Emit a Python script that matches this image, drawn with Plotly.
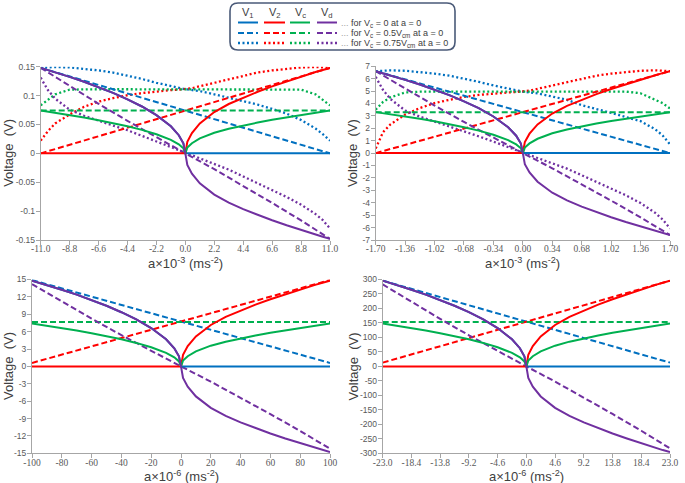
import plotly.graph_objects as go

W, H = 685, 483

# ---------------- colours ----------------
C_V1, C_V2, C_VC, C_VD = "#0070C0", "#FF0000", "#00B050", "#7030A0"

# ---------------- panel 1 (a x10^-3, +/-11) ----------------
p1_x = [-11, -10.45, -9.9, -8.8, -7.7, -6.6, -5.5, -4.4, -3.3, -2.2, -1.1, -0.5, -0.15, 0,
        0.15, 0.5, 1.1, 2.2, 3.3, 4.4, 5.5, 6.6, 7.7, 8.8, 9.9, 10.45, 11]
p1_v1 = [0.148, 0.1443, 0.1404, 0.1323, 0.1239, 0.1147, 0.1046, 0.0935, 0.0811, 0.0662, 0.0468, 0.0314, 0.0173, 0,
         0, 0, 0, 0, 0, 0, 0, 0, 0, 0, 0, 0, 0]
p1_v2 = [0, 0, 0, 0, 0, 0, 0, 0, 0, 0, 0, 0, 0, 0,
         0.02, 0.0351, 0.0518, 0.0715, 0.0854, 0.0966, 0.1066, 0.1159, 0.1245, 0.1328, 0.1407, 0.1444, 0.148]
p1_vc = [0.074, 0.0722, 0.0702, 0.0662, 0.062, 0.0574, 0.0523, 0.0468, 0.0406, 0.0331, 0.0234, 0.0157, 0.0087, 0,
         0.01, 0.0175, 0.0259, 0.0357, 0.0427, 0.0483, 0.0533, 0.058, 0.0622, 0.0664, 0.0704, 0.0722, 0.074]
p1_vd = [0.148, 0.1443, 0.1404, 0.1323, 0.1239, 0.1147, 0.1046, 0.0935, 0.0811, 0.0662, 0.0468, 0.0314, 0.0173, 0,
         -0.02, -0.0351, -0.0518, -0.0715, -0.0854, -0.0966, -0.1066, -0.1159, -0.1245, -0.1328, -0.1407, -0.1444, -0.148]
p1_v1_dot = [0.148, 0.1492, 0.1495, 0.1487, 0.1465, 0.1436, 0.1399, 0.1347, 0.1288, 0.1221, 0.1162, 0.1128, 0.1114, 0.111,
             0.1107, 0.1098, 0.1077, 0.1021, 0.0962, 0.0903, 0.0844, 0.077, 0.0688, 0.0577, 0.0429, 0.0333, 0.022]
p1_v2_dot = [0.022, 0.0385, 0.0518, 0.0673, 0.0807, 0.0895, 0.0955, 0.1006, 0.1043, 0.1073, 0.1095, 0.1103, 0.1109, 0.111,
             0.1114, 0.1128, 0.1162, 0.1221, 0.1288, 0.1347, 0.1399, 0.1436, 0.1465, 0.1487, 0.1495, 0.1492, 0.148]
p1_vc_dot = [0.083, 0.0932, 0.1021, 0.1103, 0.111, 0.111, 0.111, 0.111, 0.111, 0.111, 0.111, 0.111, 0.111, 0.111,
             0.111, 0.111, 0.111, 0.111, 0.111, 0.111, 0.111, 0.111, 0.111, 0.1103, 0.1021, 0.0932, 0.083]
p1_vd_dot = [0.131, 0.1095, 0.0947, 0.0755, 0.0651, 0.0562, 0.0481, 0.04, 0.0303, 0.0207, 0.0107, 0.0047, 0.0015, 0,
             -0.0012, -0.004, -0.0089, -0.0185, -0.0281, -0.04, -0.0518, -0.0629, -0.0755, -0.0888, -0.1051, -0.1154, -0.1302]
p1_xd = [-11, -8.8, -6.6, -4.4, -2.2, 0, 2.2, 4.4, 6.6, 8.8, 11]
p1_v1_dash = [0.148, 0.1332, 0.1184, 0.1036, 0.0888, 0.074, 0.0592, 0.0444, 0.0296, 0.0148, 0]
p1_v2_dash = [0, 0.0148, 0.0296, 0.0444, 0.0592, 0.074, 0.0888, 0.1036, 0.1184, 0.1332, 0.148]
p1_vc_dash = [0.074, 0.074, 0.074, 0.074, 0.074, 0.074, 0.074, 0.074, 0.074, 0.074, 0.074]
p1_vd_dash = [0.148, 0.1162, 0.0858, 0.0562, 0.0274, 0, -0.0274, -0.0562, -0.0858, -0.1162, -0.148]
p1_xticks = [-11, -8.8, -6.6, -4.4, -2.2, 0, 2.2, 4.4, 6.6, 8.8, 11]
p1_xlabels = ["-11.0", "-8.8", "-6.6", "-4.4", "-2.2", "0.0", "2.2", "4.4", "6.6", "8.8", "11.0"]
p1_yticks = [-0.15, -0.1, -0.05, 0, 0.05, 0.1, 0.15]
p1_ylabels = ["-0.15", "-0.1", "-0.05", "0", "0.05", "0.1", "0.15"]

# ---------------- panel 2 (a x10^-3, +/-1.70) ----------------
p2_x = [-1.7, -1.615, -1.53, -1.36, -1.19, -1.02, -0.85, -0.68, -0.51, -0.34, -0.17, -0.077, -0.023, 0,
        0.023, 0.077, 0.17, 0.34, 0.51, 0.68, 0.85, 1.02, 1.19, 1.36, 1.53, 1.615, 1.7]
p2_v1 = [6.6, 6.435, 6.263, 5.9, 5.524, 5.115, 4.666, 4.171, 3.617, 2.95, 2.086, 1.399, 0.772, 0,
         0, 0, 0, 0, 0, 0, 0, 0, 0, 0, 0, 0, 0]
p2_v2 = [0, 0, 0, 0, 0, 0, 0, 0, 0, 0, 0, 0, 0, 0,
         0.891, 1.564, 2.31, 3.188, 3.808, 4.31, 4.752, 5.168, 5.551, 5.92, 6.277, 6.442, 6.6]
p2_vc = [3.3, 3.218, 3.131, 2.95, 2.762, 2.558, 2.333, 2.086, 1.808, 1.475, 1.043, 0.7, 0.386, 0,
         0.445, 0.782, 1.155, 1.594, 1.904, 2.155, 2.376, 2.584, 2.775, 2.96, 3.138, 3.221, 3.3]
p2_vd = [6.6, 6.435, 6.263, 5.9, 5.524, 5.115, 4.666, 4.171, 3.617, 2.95, 2.086, 1.399, 0.772, 0,
         -0.891, -1.564, -2.31, -3.188, -3.808, -4.31, -4.752, -5.168, -5.551, -5.92, -6.277, -6.442, -6.6]
p2_v1_dot = [6.6, 6.653, 6.666, 6.633, 6.534, 6.402, 6.237, 6.006, 5.742, 5.445, 5.181, 5.029, 4.97, 4.95,
             4.937, 4.897, 4.805, 4.554, 4.29, 3.861, 3.564, 3.234, 2.904, 2.574, 1.914, 1.419, 0.70]
p2_v2_dot = [0.376, 1.683, 2.31, 3.102, 3.63, 4.026, 4.29, 4.521, 4.686, 4.805, 4.884, 4.917, 4.943, 4.95,
             4.97, 5.029, 5.181, 5.445, 5.742, 6.006, 6.237, 6.402, 6.534, 6.633, 6.666, 6.653, 6.6]
p2_vc_dot = [3.498, 4.125, 4.488, 4.884, 4.95, 4.95, 4.95, 4.95, 4.95, 4.95, 4.95, 4.95, 4.95, 4.95,
             4.95, 4.95, 4.95, 4.95, 4.95, 4.95, 4.95, 4.95, 4.95, 4.818, 4.323, 4.026, 3.59]
p2_vd_dot = [6.138, 5.082, 4.356, 3.432, 2.937, 2.541, 2.145, 1.782, 1.353, 0.924, 0.475, 0.211, 0.066, 0,
             -0.053, -0.178, -0.396, -0.825, -1.254, -1.782, -2.31, -2.838, -3.399, -4.026, -4.818, -5.346, -6.072]
p2_xd = [-1.7, -1.36, -1.02, -0.68, -0.34, 0, 0.34, 0.68, 1.02, 1.36, 1.7]
p2_v1_dash = [6.6, 5.94, 5.28, 4.62, 3.96, 3.3, 2.64, 1.98, 1.32, 0.66, 0]
p2_v2_dash = [0, 0.66, 1.32, 1.98, 2.64, 3.3, 3.96, 4.62, 5.28, 5.94, 6.6]
p2_vc_dash = [3.3, 3.3, 3.3, 3.3, 3.3, 3.3, 3.3, 3.3, 3.3, 3.3, 3.3]
p2_vd_dash = [6.6, 5.181, 3.828, 2.508, 1.221, 0, -1.221, -2.508, -3.828, -5.181, -6.6]
p2_xticks = [-1.7, -1.36, -1.02, -0.68, -0.34, 0, 0.34, 0.68, 1.02, 1.36, 1.7]
p2_xlabels = ["-1.70", "-1.36", "-1.02", "-0.68", "-0.34", "0.00", "0.34", "0.68", "1.02", "1.36", "1.70"]
p2_yticks = [-7, -6, -5, -4, -3, -2, -1, 0, 1, 2, 3, 4, 5, 6, 7]
p2_ylabels = ["-7", "-6", "-5", "-4", "-3", "-2", "-1", "0", "1", "2", "3", "4", "5", "6", "7"]

# ---------------- panel 3 (a x10^-6, +/-100) ----------------
p3_x = [-100, -95, -90, -80, -70, -60, -50, -40, -30, -20, -10, -4.5, -1.36, 0,
        1.36, 4.5, 10, 20, 30, 40, 50, 60, 70, 80, 90, 95, 100]
p3_v1 = [14.8, 14.43, 14.045, 13.231, 12.388, 11.47, 10.464, 9.354, 8.11, 6.616, 4.677, 3.138, 1.732, 0,
         0, 0, 0, 0, 0, 0, 0, 0, 0, 0, 0, 0, 0]
p3_v2 = [0, 0, 0, 0, 0, 0, 0, 0, 0, 0, 0, 0, 0, 0,
         1.998, 3.508, 5.18, 7.148, 8.54, 9.664, 10.656, 11.588, 12.447, 13.276, 14.075, 14.445, 14.8]
p3_vc = [7.4, 7.215, 7.023, 6.616, 6.194, 5.735, 5.232, 4.677, 4.055, 3.308, 2.339, 1.569, 0.866, 0,
         0.999, 1.754, 2.59, 3.574, 4.27, 4.832, 5.328, 5.794, 6.224, 6.638, 7.038, 7.223, 7.4]
p3_vd = [14.8, 14.43, 14.045, 13.231, 12.388, 11.47, 10.464, 9.354, 8.11, 6.616, 4.677, 3.138, 1.732, 0,
         -1.998, -3.508, -5.18, -7.148, -8.54, -9.664, -10.656, -11.588, -12.447, -13.276, -14.075, -14.445, -14.8]
p3_xd = [-100, -80, -60, -40, -20, 0, 20, 40, 60, 80, 100]
p3_v1_dash = [14.9, 13.47, 12.04, 10.61, 9.18, 7.75, 6.32, 4.89, 3.46, 2.03, 0.6]
p3_v2_dash = [0.6, 2.03, 3.46, 4.89, 6.32, 7.75, 9.18, 10.61, 12.04, 13.47, 14.9]
p3_vc_dash = [7.65, 7.65, 7.65, 7.65, 7.65, 7.65, 7.65, 7.65, 7.65, 7.65, 7.65]
p3_vd_dash = [14.2, 11.15, 8.24, 5.4, 2.63, 0, -2.63, -5.4, -8.24, -11.15, -14.2]
p3_xticks = [-100, -80, -60, -40, -20, 0, 20, 40, 60, 80, 100]
p3_xlabels = ["-100", "-80", "-60", "-40", "-20", "0", "20", "40", "60", "80", "100"]
p3_yticks = [-15, -12, -9, -6, -3, 0, 3, 6, 9, 12, 15]
p3_ylabels = ["-15", "-12", "-9", "-6", "-3", "0", "3", "6", "9", "12", "15"]

# ---------------- panel 4 (a x10^-6, +/-23) ----------------
p4_x = [-23, -21.85, -20.7, -18.4, -16.1, -13.8, -11.5, -9.2, -6.9, -4.6, -2.3, -1.035, -0.313, 0,
        0.313, 1.035, 2.3, 4.6, 6.9, 9.2, 11.5, 13.8, 16.1, 18.4, 20.7, 21.85, 23]
p4_v1 = [296, 288.6, 280.9, 264.6, 247.8, 229.4, 209.3, 187.1, 162.2, 132.3, 93.5, 62.8, 34.6, 0,
         0, 0, 0, 0, 0, 0, 0, 0, 0, 0, 0, 0, 0]
p4_v2 = [0, 0, 0, 0, 0, 0, 0, 0, 0, 0, 0, 0, 0, 0,
         40.0, 70.2, 103.6, 143.0, 170.8, 193.3, 213.1, 231.8, 248.9, 265.5, 281.5, 288.9, 296]
p4_vc = [148, 144.3, 140.5, 132.3, 123.9, 114.7, 104.7, 93.6, 81.1, 66.2, 46.8, 31.4, 17.3, 0,
         20.0, 35.1, 51.8, 71.5, 85.4, 96.7, 106.6, 115.9, 124.5, 132.8, 140.8, 144.5, 148]
p4_vd = [296, 288.6, 280.9, 264.6, 247.8, 229.4, 209.3, 187.1, 162.2, 132.3, 93.5, 62.8, 34.6, 0,
         -40.0, -70.2, -103.6, -143.0, -170.8, -193.3, -213.1, -231.8, -248.9, -265.5, -281.5, -288.9, -296]
p4_xd = [-23, -18.4, -13.8, -9.2, -4.6, 0, 4.6, 9.2, 13.8, 18.4, 23]
p4_v1_dash = [296, 267.7, 239.4, 211.1, 182.8, 154.5, 126.2, 97.9, 69.6, 41.3, 13]
p4_v2_dash = [13, 41.3, 69.6, 97.9, 126.2, 154.5, 182.8, 211.1, 239.4, 267.7, 296]
p4_vc_dash = [153, 153, 153, 153, 153, 153, 153, 153, 153, 153, 153]
p4_vd_dash = [283, 222.2, 164.1, 107.5, 52.4, 0, -52.4, -107.5, -164.1, -222.2, -283]
p4_xticks = [-23, -18.4, -13.8, -9.2, -4.6, 0, 4.6, 9.2, 13.8, 18.4, 23]
p4_xlabels = ["-23.0", "-18.4", "-13.8", "-9.2", "-4.6", "0.0", "4.6", "9.2", "13.8", "18.4", "23.0"]
p4_yticks = [-300, -250, -200, -150, -100, -50, 0, 50, 100, 150, 200, 250, 300]
p4_ylabels = ["-300", "-250", "-200", "-150", "-100", "-50", "0", "50", "100", "150", "200", "250", "300"]

# ---------------- text ----------------
y_title = "Voltage  (V)"
x_title_top = "a×10<sup>-3</sup> (ms<sup>-2</sup>)"
x_title_bottom = "a×10<sup>-6</sup> (ms<sup>-2</sup>)"
legend_heads = ["V<sub>1</sub>", "V<sub>2</sub>", "V<sub>c</sub>", "V<sub>d</sub>"]
legend_rows = ["for V<sub>c</sub> = 0 at a = 0",
               "for V<sub>c</sub> = 0.5V<sub>cm</sub> at a = 0",
               "for V<sub>c</sub> = 0.75V<sub>cm</sub> at a = 0"]

# ---------------- styles ----------------
DASH = "6px,3px"
DOT = "2px,2.5px"
W_SOLID, W_DASH, W_DOT = 2, 2, 2.3


def px(x):
    return x / W


def py(y):
    return 1 - y / H


panels = [
    dict(ax="", dom_x=(40.7, 330), dom_y=(66.7, 240), xr=[-11, 11], yr=[-0.15, 0.15], ytx=8.5,
         x=p1_x, s=[p1_v1, p1_v2, p1_vc, p1_vd], xd=p1_xd,
         d=[p1_v1_dash, p1_v2_dash, p1_vc_dash, p1_vd_dash],
         o=[p1_v1_dot, p1_v2_dot, p1_vc_dot, p1_vd_dot],
         xt=p1_xticks, xl=p1_xlabels, yt=p1_yticks, yl=p1_ylabels),
    dict(ax="2", dom_x=(375.7, 670), dom_y=(66.2, 240), xr=[-1.7, 1.7], yr=[-7, 7], ytx=352,
         x=p2_x, s=[p2_v1, p2_v2, p2_vc, p2_vd], xd=p2_xd,
         d=[p2_v1_dash, p2_v2_dash, p2_vc_dash, p2_vd_dash],
         o=[p2_v1_dot, p2_v2_dot, p2_vc_dot, p2_vd_dot],
         xt=p2_xticks, xl=p2_xlabels, yt=p2_yticks, yl=p2_ylabels),
    dict(ax="3", dom_x=(32, 330), dom_y=(279.5, 453.3), xr=[-100, 100], yr=[-15, 15], ytx=8.5,
         x=p3_x, s=[p3_v1, p3_v2, p3_vc, p3_vd], xd=p3_xd,
         d=[p3_v1_dash, p3_v2_dash, p3_vc_dash, p3_vd_dash], o=None,
         xt=p3_xticks, xl=p3_xlabels, yt=p3_yticks, yl=p3_ylabels),
    dict(ax="4", dom_x=(382.7, 670), dom_y=(279.5, 453.3), xr=[-23, 23], yr=[-300, 300], ytx=353,
         x=p4_x, s=[p4_v1, p4_v2, p4_vc, p4_vd], xd=p4_xd,
         d=[p4_v1_dash, p4_v2_dash, p4_vc_dash, p4_vd_dash], o=None,
         xt=p4_xticks, xl=p4_xlabels, yt=p4_yticks, yl=p4_ylabels),
]

colors = [C_V1, C_V2, C_VC, C_VD]
fig = go.Figure()
layout = dict(
    width=W, height=H, margin=dict(l=0, r=0, t=0, b=0, autoexpand=False),
    paper_bgcolor="white", plot_bgcolor="white", showlegend=False,
)

axis_common = dict(showline=True, linecolor="#A6A6A6", linewidth=1, ticks="outside",
                   ticklen=4, tickcolor="#A6A6A6", tickwidth=1, showgrid=False,
                   zeroline=False, fixedrange=True, automargin=False)

annotations = []
for p in panels:
    a = p["ax"]
    xa, ya = "x" + a, "y" + a
    if p["o"] is not None:
        for c, ys in zip(colors, p["o"]):
            fig.add_trace(go.Scatter(x=p["x"], y=ys, mode="lines", xaxis=xa, yaxis=ya,
                                     line=dict(color=c, width=W_DOT, dash=DOT), hoverinfo="skip"))
    for c, ys in zip(colors, p["d"]):
        fig.add_trace(go.Scatter(x=p["xd"], y=ys, mode="lines", xaxis=xa, yaxis=ya,
                                 line=dict(color=c, width=W_DASH, dash=DASH), hoverinfo="skip"))
    for c, ys in zip(colors, p["s"]):
        fig.add_trace(go.Scatter(x=p["x"], y=ys, mode="lines", xaxis=xa, yaxis=ya,
                                 line=dict(color=c, width=W_SOLID), hoverinfo="skip"))

    x0, x1 = p["dom_x"]
    y0, y1 = p["dom_y"]
    layout["xaxis" + a] = dict(axis_common, domain=[px(x0), px(x1)], range=p["xr"], anchor=ya,
                               tickvals=p["xt"], ticktext=p["xl"], ticklabelstandoff=-4,
                               tickfont=dict(family="Liberation Serif", size=9.5, color="#595959"))
    layout["yaxis" + a] = dict(axis_common, domain=[py(y1), py(y0)], range=p["yr"], anchor=xa,
                               tickvals=p["yt"], ticktext=p["yl"], ticklabelstandoff=-1,
                               tickfont=dict(family="Liberation Sans", size=8.5, color="#595959"))
    xt = x_title_top if a in ("", "2") else x_title_bottom
    annotations.append(dict(x=px((x0 + x1) / 2), y=py(y1 + 22.5), xref="paper", yref="paper",
                            text=xt, showarrow=False, xanchor="center", yanchor="middle",
                            font=dict(family="Liberation Sans", size=13, color="#404040")))
    annotations.append(dict(x=px(p["ytx"]), y=py((y0 + y1) / 2),
                            xref="paper", yref="paper", text=y_title, textangle=-90,
                            showarrow=False, xanchor="center", yanchor="middle",
                            font=dict(family="Liberation Sans", size=13, color="#404040")))

# ---------------- custom legend ----------------
shapes = []
bx0, bx1, by0, by1, r = 230, 455, 3, 50, 8
path = (f"M {px(bx0 + r)},{py(by0)} L {px(bx1 - r)},{py(by0)} "
        f"Q {px(bx1)},{py(by0)} {px(bx1)},{py(by0 + r)} L {px(bx1)},{py(by1 - r)} "
        f"Q {px(bx1)},{py(by1)} {px(bx1 - r)},{py(by1)} L {px(bx0 + r)},{py(by1)} "
        f"Q {px(bx0)},{py(by1)} {px(bx0)},{py(by1 - r)} L {px(bx0)},{py(by0 + r)} "
        f"Q {px(bx0)},{py(by0)} {px(bx0 + r)},{py(by0)} Z")
shapes.append(dict(type="path", xref="paper", yref="paper", path=path,
                   line=dict(color="#4A5A78", width=1.6), fillcolor="white"))

col_x = [(238, 258), (264, 285), (290, 310), (317, 337)]
row_y = [22.5, 33.0, 43.0]
row_style = [(None, W_SOLID), (DASH, W_DASH), (DOT, W_DOT)]
for (cx0, cx1), head in zip(col_x, legend_heads):
    annotations.append(dict(x=px((cx0 + cx1) / 2), y=py(13), xref="paper", yref="paper",
                            text=head, showarrow=False, xanchor="center", yanchor="middle",
                            font=dict(family="Liberation Sans", size=11, color="#404040")))
for ry, (dash, lw), txt in zip(row_y, row_style, legend_rows):
    for (cx0, cx1), c in zip(col_x, colors):
        ln = dict(color=c, width=lw)
        if dash:
            ln["dash"] = dash
        shapes.append(dict(type="line", xref="paper", yref="paper",
                           x0=px(cx0), x1=px(cx1), y0=py(ry), y1=py(ry), line=ln))
    annotations.append(dict(x=px(338.5), y=py(ry + 0.5), xref="paper", yref="paper",
                            text="<span style='color:#A0A0A0'>...</span> " + txt,
                            showarrow=False, xanchor="left", yanchor="middle",
                            font=dict(family="Liberation Sans", size=9, color="#404040")))

layout["shapes"] = shapes
layout["annotations"] = annotations
fig.update_layout(**layout)
fig.write_html("out.html", config={"displayModeBar": False},
               post_script="document.body.style.margin='0px';")
